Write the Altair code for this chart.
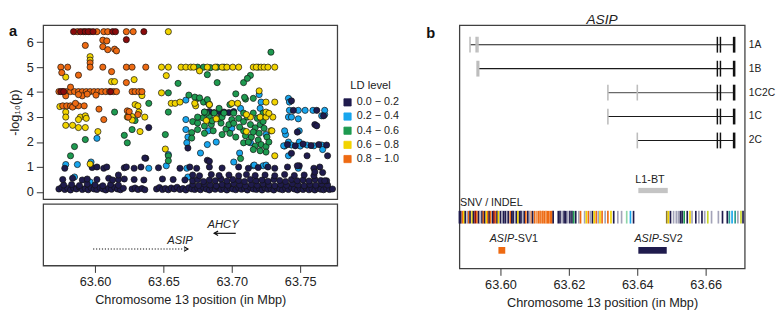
import altair as alt
import pandas as pd

FONT = "Liberation Sans"
TXT = "#222222"

# ---------------- panel a : association scatter ----------------
LD_LEVELS = ["0.0 − 0.2", "0.2 − 0.4", "0.4 − 0.6", "0.6 − 0.8", "0.8 − 1.0", "lead"]
LD_COLORS = ["#1f1b4d", "#18a6ee", "#1e9a50", "#f2d400", "#ee6a12", "#8a0b0b"]

navy_pts = [
    (63.5736, 0.12), (63.5757, 0.18), (63.5779, 0.10), (63.5800, 0.15), (63.5821, 0.08), (63.5843, 0.16),
    (63.5864, 0.12), (63.5886, 0.20), (63.5907, 0.10), (63.5929, 0.14), (63.5950, 0.09), (63.5971, 0.17),
    (63.5993, 0.12), (63.6014, 0.10), (63.6036, 0.18), (63.6057, 0.12), (63.6079, 0.08), (63.6100, 0.15),
    (63.6121, 0.11), (63.6143, 0.19), (63.6164, 0.12), (63.6186, 0.09), (63.6207, 0.15),
    (63.6271, 0.12), (63.6293, 0.16), (63.6314, 0.10), (63.6343, 0.14), (63.6364, 0.09),
    (63.6450, 0.12), (63.6471, 0.18), (63.6493, 0.10), (63.6514, 0.14), (63.6536, 0.09), (63.6557, 0.16),
    (63.6579, 0.12), (63.6600, 0.19), (63.6621, 0.10), (63.6643, 0.14), (63.6664, 0.08), (63.6686, 0.17),
    (63.6707, 0.12), (63.6729, 0.10), (63.6750, 0.15), (63.6771, 0.09), (63.6793, 0.18), (63.6814, 0.12),
    (63.6836, 0.08), (63.6857, 0.15), (63.6879, 0.11), (63.6900, 0.19), (63.6921, 0.10), (63.6943, 0.14),
    (63.6964, 0.08), (63.6986, 0.16), (63.7007, 0.12), (63.7029, 0.09), (63.7050, 0.17), (63.7071, 0.11),
    (63.7093, 0.14), (63.7114, 0.08), (63.7136, 0.18), (63.7157, 0.12), (63.7179, 0.10), (63.7200, 0.15),
    (63.7221, 0.08), (63.7243, 0.16), (63.7264, 0.11), (63.7286, 0.13), (63.7307, 0.08), (63.7329, 0.17),
    (63.7350, 0.12), (63.7371, 0.09), (63.7393, 0.15), (63.7414, 0.10), (63.7436, 0.18), (63.7457, 0.12),
    (63.7479, 0.08), (63.7500, 0.14), (63.7521, 0.10), (63.7543, 0.16), (63.7564, 0.09), (63.7586, 0.13),
    (63.7607, 0.08), (63.7629, 0.15), (63.7650, 0.11), (63.7671, 0.09), (63.7693, 0.14), (63.7714, 0.10),
    (63.7736, 0.12),
    (63.5771, 0.28), (63.5829, 0.30), (63.5886, 0.26), (63.5943, 0.32), (63.6000, 0.28), (63.6057, 0.25),
    (63.6114, 0.30), (63.6171, 0.27),
    (63.6714, 0.30), (63.6757, 0.26), (63.6800, 0.32), (63.6843, 0.28), (63.6886, 0.25), (63.6929, 0.30),
    (63.6971, 0.27), (63.7014, 0.33), (63.7057, 0.28), (63.7100, 0.25), (63.7143, 0.30), (63.7186, 0.27),
    (63.7229, 0.32), (63.7271, 0.28), (63.7314, 0.25), (63.7357, 0.30), (63.7400, 0.27), (63.7443, 0.33),
    (63.7486, 0.28), (63.7529, 0.25), (63.7571, 0.30), (63.7614, 0.27), (63.7657, 0.32), (63.7700, 0.28),
    (63.5764, 0.50), (63.5836, 0.55), (63.5907, 0.48), (63.5943, 0.52), (63.6014, 0.50), (63.6100, 0.55),
    (63.6129, 0.48), (63.6171, 0.50), (63.6214, 0.52), (63.6286, 0.50), (63.6357, 0.48), (63.6493, 0.52),
    (63.6571, 0.50), (63.6657, 0.48),
    (63.6714, 0.45), (63.6750, 0.50), (63.6793, 0.42), (63.6836, 0.48), (63.6879, 0.45), (63.6921, 0.52),
    (63.6964, 0.44), (63.7007, 0.50), (63.7050, 0.46), (63.7093, 0.42), (63.7136, 0.50), (63.7179, 0.45),
    (63.7221, 0.48), (63.7264, 0.43), (63.7307, 0.50), (63.7350, 0.46), (63.7393, 0.42), (63.7436, 0.50),
    (63.7479, 0.45), (63.7521, 0.48), (63.7564, 0.44), (63.7607, 0.50), (63.7650, 0.46), (63.7693, 0.45),
    (63.6714, 0.68), (63.6764, 0.65), (63.6850, 0.70), (63.6907, 0.66), (63.6979, 0.68), (63.7050, 0.65),
    (63.7107, 0.70), (63.7171, 0.66), (63.7243, 0.68), (63.7314, 0.65), (63.7386, 0.70), (63.7457, 0.66),
    (63.7529, 0.68), (63.7600, 0.65), (63.6171, 0.68),
    (63.5779, 0.95), (63.5979, 0.98), (63.6014, 1.00), (63.6064, 0.95), (63.6086, 1.00), (63.6214, 0.97),
    (63.6229, 1.00), (63.6286, 0.95), (63.6336, 1.00), (63.6371, 1.35), (63.6464, 0.97), (63.6621, 0.95),
    (63.6693, 1.00), (63.6743, 0.95), (63.6836, 1.00), (63.6929, 0.96), (63.7050, 1.00), (63.7121, 0.95),
    (63.7193, 0.98), (63.7264, 1.00), (63.7314, 0.95), (63.7407, 1.00), (63.7493, 1.05), (63.7600, 0.95),
    (63.7643, 1.00),
    (63.6364, 1.36), (63.6393, 2.58), (63.6679, 1.76), (63.6821, 1.27), (63.6836, 1.23), (63.7479, 1.05),
    (63.7607, 2.70), (63.7479, 2.40), (63.7621, 2.65), (63.7671, 3.05), (63.7450, 3.27), (63.7621, 3.27),
    (63.7436, 3.65), (63.7664, 0.78), (63.7607, 0.80), (63.7679, 0.45),
    (63.7407, 1.90), (63.7464, 1.85), (63.7521, 1.92), (63.7579, 1.86), (63.7636, 1.90), (63.7693, 1.88),
    (63.7436, 1.55), (63.7550, 1.45), (63.7700, 1.45),
    (63.6800, 3.20), (63.6836, 3.22), (63.6871, 3.18), (63.6907, 3.22), (63.6943, 3.20), (63.6979, 3.18),
    (63.7014, 3.22),
]

blue_pts = [
    (63.6664, 3.68), (63.6664, 2.50), (63.6679, 2.20), (63.6521, 1.05), (63.6679, 0.60), (63.6014, 2.15),
    (63.5786, 1.10), (63.5871, 1.10), (63.5850, 0.60), (63.5964, 0.40), (63.6393, 0.95), (63.6829, 2.45),
    (63.6886, 2.00), (63.6821, 1.90), (63.6771, 1.56), (63.7057, 1.56), (63.7014, 1.20), (63.7157, 1.05),
    (63.7229, 1.05), (63.5971, 1.20), (63.6536, 1.50), (63.6664, 2.90), (63.6671, 1.97), (63.6671, 0.95),
    (63.7000, 2.55), (63.7136, 1.97), (63.7250, 2.30), (63.7393, 2.30), (63.7414, 1.45), (63.7386, 1.84),
    (63.7414, 3.00), (63.7436, 3.00), (63.7657, 3.05), (63.7679, 3.10),
    (63.7414, 3.75), (63.7421, 3.60), (63.7421, 3.27), (63.7486, 3.27), (63.7536, 3.27), (63.7593, 3.27),
    (63.7679, 3.27), (63.7486, 2.93), (63.7493, 2.45), (63.7386, 2.45), (63.7414, 2.00), (63.7493, 2.00),
    (63.7379, 1.85), (63.7436, 1.88), (63.7500, 1.84), (63.7550, 1.88), (63.7600, 1.85), (63.7657, 1.88),
    (63.7250, 1.08), (63.7164, 1.08), (63.7486, 0.95),
    (63.7200, 3.90), (63.7214, 3.60), (63.7064, 3.35), (63.7207, 3.35), (63.7664, 1.70),
]

green_pts = [
    (63.7286, 5.60),
    (63.6750, 5.00), (63.6793, 5.00), (63.6893, 5.00), (63.6943, 5.00), (63.7193, 5.00), (63.6843, 4.98),
    (63.6821, 4.70), (63.6893, 4.38), (63.7086, 4.38), (63.7136, 4.67), (63.7114, 4.55),
    (63.6607, 4.35), (63.6536, 3.97), (63.6686, 3.88), (63.6750, 3.75), (63.6393, 3.55), (63.6793, 3.60),
    (63.6829, 3.55), (63.6143, 3.20), (63.6536, 3.20), (63.6293, 2.86), (63.6271, 2.50), (63.6214, 2.27),
    (63.6236, 1.97), (63.5929, 2.10), (63.5850, 1.82), (63.5821, 1.45), (63.6536, 1.45), (63.6536, 1.25),
    (63.6514, 2.30),
    (63.6714, 2.82), (63.6750, 2.76), (63.6800, 2.64), (63.6850, 2.70), (63.6921, 2.76), (63.6957, 2.52),
    (63.6979, 2.70), (63.7000, 2.90), (63.7050, 2.95), (63.7086, 2.82), (63.7136, 2.70), (63.7171, 2.57),
    (63.7207, 2.70), (63.7229, 2.82), (63.7086, 2.45), (63.7143, 2.20), (63.7193, 2.08), (63.7214, 1.90),
    (63.7250, 1.82), (63.7250, 1.60), (63.7086, 1.97), (63.7121, 2.00), (63.7171, 1.84), (63.7064, 1.34),
    (63.6707, 2.38), (63.6707, 2.16), (63.6786, 2.97), (63.6836, 3.00), (63.6907, 2.95), (63.6929, 3.00),
    (63.6729, 3.80), (63.6764, 3.77), (63.6836, 3.50), (63.6907, 3.35), (63.7100, 3.72), (63.7157, 3.75),
    (63.6814, 3.16), (63.6871, 3.16), (63.6943, 3.16), (63.7014, 3.16), (63.7086, 3.16), (63.7157, 3.16),
    (63.7229, 3.16), (63.7029, 3.93), (63.7093, 3.79), (63.6821, 3.70), (63.6986, 3.50), (63.6800, 3.20),
    (63.6750, 2.50), (63.6800, 2.35), (63.6864, 2.45), (63.6929, 2.30), (63.6986, 2.35), (63.7029, 2.20),
    (63.7057, 2.60), (63.7100, 2.25), (63.7157, 2.40), (63.7200, 2.35), (63.7236, 2.55), (63.7257, 2.20),
    (63.7157, 1.70), (63.7207, 1.65), (63.7271, 2.00), (63.7014, 2.75), (63.6857, 2.85), (63.6750, 3.00),
    (63.7114, 3.00), (63.7186, 2.95),
]

yellow_pts = [
    (63.6536, 6.42), (63.5964, 5.42), (63.5964, 5.28), (63.5786, 4.60), (63.6286, 4.50), (63.6121, 4.42),
    (63.6143, 4.42),
    (63.6486, 5.00), (63.6536, 5.00), (63.6629, 5.00), (63.6664, 5.00), (63.6700, 5.00), (63.6721, 5.00),
    (63.6821, 5.00), (63.6879, 5.00), (63.6929, 5.00), (63.6964, 5.00), (63.7007, 5.00), (63.7050, 5.00),
    (63.7157, 5.00), (63.7179, 5.00), (63.7214, 5.00), (63.7236, 5.00), (63.7264, 5.00), (63.7314, 5.00),
    (63.6764, 4.85), (63.6521, 4.66), (63.6486, 3.97), (63.6343, 3.86), (63.6557, 3.55), (63.6586, 3.55),
    (63.6621, 3.60), (63.5743, 3.42), (63.6293, 3.50), (63.6314, 3.45), (63.6736, 3.45), (63.5786, 3.20),
    (63.6321, 3.20), (63.5786, 3.00), (63.5893, 3.00), (63.5929, 3.05), (63.6236, 3.00), (63.6271, 3.02),
    (63.6364, 3.00), (63.5879, 2.90), (63.5936, 2.95), (63.6271, 2.88), (63.5786, 2.67), (63.5836, 2.67),
    (63.5879, 2.58), (63.5929, 2.58), (63.6021, 2.42), (63.6329, 2.42), (63.6514, 1.72), (63.5964, 1.12),
    (63.7200, 4.05), (63.7250, 3.60), (63.7314, 3.60), (63.6729, 3.55), (63.6836, 3.50), (63.7000, 3.55),
    (63.7043, 3.55), (63.6814, 2.86), (63.6886, 2.93), (63.7136, 3.00), (63.7207, 3.00), (63.7250, 3.00),
    (63.7300, 3.00), (63.7107, 2.42), (63.7286, 2.45), (63.7314, 1.45), (63.7250, 3.20), (63.7271, 3.15),
    (63.7293, 2.45), (63.7107, 3.10),
]

orange_pts = [
    (63.5871, 6.42), (63.5914, 6.42), (63.5964, 6.42), (63.6014, 6.42), (63.6064, 6.42), (63.6093, 6.42),
    (63.6229, 6.42), (63.6279, 6.42),
    (63.6057, 6.08), (63.6086, 6.05), (63.5929, 5.87), (63.6057, 5.82), (63.6093, 5.70), (63.6143, 5.72),
    (63.6157, 5.65),
    (63.5964, 5.17), (63.5964, 5.00), (63.5750, 5.00), (63.5800, 5.00), (63.6057, 5.00), (63.6229, 5.00),
    (63.6271, 5.00), (63.6371, 5.00), (63.5757, 4.78), (63.6121, 4.82), (63.5879, 4.68), (63.6229, 4.38),
    (63.5736, 4.02), (63.5764, 4.02), (63.5793, 4.02), (63.5821, 4.02), (63.5850, 4.02), (63.5879, 4.02),
    (63.5907, 4.02), (63.5936, 4.02), (63.5964, 4.02), (63.5993, 4.02), (63.6021, 4.02), (63.6050, 4.02),
    (63.6079, 4.02), (63.6107, 4.02), (63.6136, 4.02), (63.6157, 4.02), (63.6271, 4.02), (63.6293, 4.02),
    (63.6321, 4.02), (63.6343, 4.02),
    (63.5821, 4.20), (63.5907, 3.85), (63.5879, 3.90), (63.5943, 3.92), (63.6007, 3.88), (63.5786, 3.85),
    (63.5764, 3.45), (63.5793, 3.45), (63.5821, 3.45), (63.5850, 3.45), (63.5879, 3.45), (63.5921, 3.45),
    (63.6029, 3.32), (63.6236, 3.25), (63.6064, 2.90), (63.6243, 3.00), (63.6250, 3.22), (63.6314, 3.10),
    (63.5836, 3.40), (63.5857, 3.55),
]

lead_pts = [
    (63.5843, 6.42), (63.5893, 6.42), (63.5929, 6.42), (63.5950, 6.42), (63.5986, 6.42), (63.6129, 6.42),
    (63.6150, 6.42), (63.6357, 6.42), (63.6229, 6.10), (63.5750, 4.02), (63.5771, 4.02), (63.6114, 4.02),
]

# ---------------- panel a : gene track ----------------
gene_names = ["AHCY", "ASIP"]
gene_from = [63.7029, 63.5986]
gene_to = [63.6871, 63.6679]
gene_label_pos = [63.6936, 63.6621]
gene_row = [1, 2]

# ---------------- panel b : ASIP locus ----------------
transcripts = ["1A", "1B", "1C2C", "1C", "2C"]
tx_start = [63.5911, 63.5934, 63.6314, 63.6314, 63.6400]
tx_end = [63.6683, 63.6683, 63.6683, 63.6683, 63.6683]
coding_exons_thin = [63.6634, 63.6643]
coding_exon_last = 63.6683
first_exons = {
    "1A": [63.5911, 63.5929, 63.5934],
    "1B": [],
    "1C2C": [63.6314, 63.6400],
    "1C": [63.6314],
    "2C": [63.6400],
}
first_exons_wide = {"1B": [63.5934]}

l1bt_span = (63.6403, 63.6489)
sv_names = ["SV1", "SV2"]
sv_from = [63.5994, 63.6403]
sv_to = [63.6014, 63.6486]
sv_cat = ["0.8 − 1.0", "0.0 − 0.2"]
sv_label_pos = [63.6040, 63.6463]

snv_pos = [
    63.5880, 63.5884, 63.5889, 63.5893, 63.5897, 63.5903, 63.5907, 63.5911, 63.5917, 63.5921,
    63.5926, 63.5931, 63.5936, 63.5940, 63.5946, 63.5950, 63.5954, 63.5959, 63.5963, 63.5967,
    63.5971, 63.5977, 63.5981, 63.5986, 63.5990, 63.5994, 63.6000, 63.6004, 63.6009, 63.6014,
    63.6019, 63.6023, 63.6029, 63.6033, 63.6037, 63.6043, 63.6047, 63.6051, 63.6056, 63.6060,
    63.6066, 63.6070, 63.6074, 63.6080, 63.6086, 63.6090, 63.6094, 63.6100, 63.6106, 63.6111,
    63.6116, 63.6120, 63.6124, 63.6129, 63.6133, 63.6137, 63.6141, 63.6146, 63.6150, 63.6154,
    63.6169, 63.6174, 63.6180, 63.6186, 63.6191, 63.6197, 63.6203, 63.6209, 63.6214, 63.6220,
    63.6229, 63.6234, 63.6246, 63.6251, 63.6257, 63.6263, 63.6269, 63.6274, 63.6280, 63.6286,
    63.6291, 63.6297, 63.6306, 63.6314, 63.6323, 63.6331, 63.6343, 63.6354, 63.6369, 63.6380,
    63.6389,
    63.6486, 63.6491, 63.6497, 63.6506, 63.6514, 63.6520, 63.6526, 63.6531, 63.6537, 63.6546,
    63.6554, 63.6560, 63.6571, 63.6580, 63.6589, 63.6597, 63.6606, 63.6617, 63.6637, 63.6649,
    63.6663, 63.6669, 63.6677, 63.6686, 63.6694, 63.6703, 63.6709,
]
snv_code = [
    "1", "1", "5", "4", "1", "g", "5", "1", "4", "1",
    "r", "5", "1", "g", "1", "5", "1", "4", "5", "1",
    "5", "1", "r", "5", "1", "4", "1", "g", "1", "1",
    "g", "1", "5", "1", "1", "g", "1", "4", "1", "1",
    "g", "1", "5", "1", "g", "o", "1", "5", "o", "5",
    "5", "o", "5", "5", "o", "5", "5", "5", "5", "1",
    "1", "1", "g", "1", "1", "g", "1", "1", "3", "1",
    "g", "5", "g", "4", "5", "g", "1", "4", "5", "g",
    "4", "5", "g", "5", "4", "1", "g", "g", "m", "2",
    "1",
    "k", "4", "1", "g", "g", "g", "1", "1", "3", "1",
    "4", "g", "1", "g", "1", "g", "v", "g", "g", "1",
    "1", "t", "2", "t", "g", "v", "1",
]
CODE_TO_CAT = {"1": LD_LEVELS[0], "2": LD_LEVELS[1], "3": LD_LEVELS[2], "4": LD_LEVELS[3],
               "5": LD_LEVELS[4], "r": "lead", "g": "gray", "o": "light orange", "t": "teal",
               "m": "mint", "k": "olive", "v": "lime"}

EXTRA_CATS = ["gray", "light orange", "teal", "mint", "olive", "lime", "box gray", "tx main", "tx alt"]
EXTRA_COLORS = ["#a3a3b8", "#f29a5c", "#2a9d8f", "#8fd6a8", "#8c7a2a", "#c8d42a", "#c4c4c4",
                "#1a1a1a", "#6a6a6a"]
COLOR_SCALE = alt.Scale(domain=LD_LEVELS + EXTRA_CATS, range=LD_COLORS + EXTRA_COLORS)
LEGEND = alt.Legend(values=LD_LEVELS[:5], title="LD level", orient="none",
                    legendX=306, legendY=56, symbolType="square", symbolSize=55,
                    symbolStrokeColor="#111111", symbolStrokeWidth=0.8,
                    symbolOpacity=1, titleFontWeight="normal", titleFontSize=11.5,
                    labelFontSize=11, titleAnchor="middle", rowPadding=2.5,
                    labelOffset=4, titlePadding=6, titleColor=TXT, labelColor=TXT,
                    titleFont=FONT, labelFont=FONT)


def color_enc(field):
    return alt.Color(field, scale=COLOR_SCALE, legend=LEGEND)


def panel_title(text):
    return alt.Title(text, fontStyle="italic", fontWeight="normal", fontSize=14, font=FONT,
                     offset=-2, color=TXT)


# ================= build =================
rows = []
for lvl, pts in [(LD_LEVELS[1], blue_pts), (LD_LEVELS[0], navy_pts), (LD_LEVELS[2], green_pts),
                 (LD_LEVELS[3], yellow_pts), (LD_LEVELS[4], orange_pts), (LD_LEVELS[5], lead_pts)]:
    for p, v in pts:
        rows.append({"pos": p, "logp": v, "ld": lvl})
scatter_df = pd.DataFrame(rows)

XA = alt.Scale(domain=[63.5621, 63.7771], nice=False, zero=False)
YA = alt.Scale(domain=[-0.285, 6.68], nice=False, zero=False)

points = alt.Chart(scatter_df).mark_circle(size=40, opacity=1, stroke="#111111", strokeWidth=0.7).encode(
    x=alt.X("pos:Q", scale=XA, axis=None),
    y=alt.Y("logp:Q", scale=YA,
            axis=alt.Axis(values=[0, 1, 2, 3, 4, 5, 6], title="-log₁₀(p)", tickSize=7,
                          labelPadding=3, titlePadding=5)),
    color=color_enc("ld:N"),
)
label_a = alt.Chart(pd.DataFrame({"t": ["a"]})).mark_text(
    font=FONT, fontSize=15, fontWeight="bold", align="left", baseline="top", color="#111111"
).encode(text="t:N", x=alt.value(-35), y=alt.value(-1))

scatter = alt.layer(points, label_a).properties(width=301, height=178, title=panel_title("\u00a0"))

genes_df = pd.DataFrame({"gene": gene_names, "x0": gene_from, "x1": gene_to,
                         "lab": gene_label_pos, "row": gene_row})
genes_df["ly"] = genes_df["row"] - 0.5
YG = alt.Scale(domain=[-0.875, 3.06], reverse=True, nice=False, zero=False)
GX_AXIS = alt.Axis(values=[63.60, 63.65, 63.70, 63.75], format=".2f", tickSize=7,
                   labelPadding=3, titlePadding=6, title="Chromosome 13 position (in Mbp)")


def gx(field):
    return alt.X(field, scale=XA, axis=GX_AXIS)


def gy(field):
    return alt.Y(field, scale=YG, axis=None)


ahcy_line = alt.Chart(genes_df).transform_filter("datum.gene == 'AHCY'").mark_rule(
    color="#111111", strokeWidth=1.2).encode(x=gx("x0:Q"), x2="x1:Q", y=gy("row:Q"))
asip_line = alt.Chart(genes_df).transform_filter("datum.gene == 'ASIP'").mark_rule(
    color="#111111", strokeWidth=1.2, strokeDash=[1.2, 1.8]).encode(x=gx("x0:Q"), x2="x1:Q", y=gy("row:Q"))
ahcy_head = alt.Chart(genes_df).transform_filter("datum.gene == 'AHCY'").mark_point(
    shape="M1.6,-0.9L0,0L1.6,0.9", size=25, filled=False, stroke="#111111", strokeWidth=1.2,
    opacity=1).encode(x=gx("x1:Q"), y=gy("row:Q"))
asip_head = alt.Chart(genes_df).transform_filter("datum.gene == 'ASIP'").mark_point(
    shape="M-1.6,-0.9L0,0L-1.6,0.9", size=25, filled=False, stroke="#111111", strokeWidth=1.2,
    opacity=1).encode(x=gx("x1:Q"), y=gy("row:Q"))
gene_text = alt.Chart(genes_df).mark_text(
    font=FONT, fontSize=11.5, fontStyle="italic", color=TXT, baseline="middle").encode(
    x=gx("lab:Q"), y=gy("ly:Q"), text="gene:N")

genes = alt.layer(ahcy_line, asip_line, ahcy_head, asip_head, gene_text).properties(width=301, height=63)

left = alt.vconcat(scatter, genes, spacing=5, bounds="flush")

# ---- panel b
XB = alt.Scale(domain=[63.588, 63.6714], nice=False, zero=False)
YB = alt.Scale(domain=[0.184, 10.347], reverse=True, nice=False, zero=False)
XB_AXIS = alt.Axis(values=[63.60, 63.62, 63.64, 63.66], format=".2f", tickSize=7, labelPadding=3,
                   titlePadding=6, title="Chromosome 13 position (in Mbp)")


def xb(field):
    return alt.X(field, scale=XB, axis=XB_AXIS)


def yb(field):
    return alt.Y(field, scale=YB, axis=None)


tx_df = pd.DataFrame({"tx": transcripts, "x0": tx_start, "x1": tx_end,
                      "row": list(range(1, len(transcripts) + 1))})
tx_df["col"] = ["tx main" if t != "1C2C" else "tx alt" for t in transcripts]
tx_df["lx"] = 63.6726
tx_lines = alt.Chart(tx_df).mark_rule(strokeWidth=1.1).encode(
    x=xb("x0:Q"), x2="x1:Q", y=yb("row:Q"), color=color_enc("col:N"))

ex_rows = []
for i, t in enumerate(transcripts):
    for p in coding_exons_thin:
        ex_rows.append({"pos": p, "row": i + 1, "kind": "thin"})
    ex_rows.append({"pos": coding_exon_last, "row": i + 1, "kind": "thick"})
    for p in first_exons[t]:
        ex_rows.append({"pos": p, "row": i + 1, "kind": "gray"})
    for p in first_exons_wide.get(t, []):
        ex_rows.append({"pos": p, "row": i + 1, "kind": "graywide"})
ex_df = pd.DataFrame(ex_rows)
ex_df["y0"] = ex_df["row"] - 0.33
ex_df["y1"] = ex_df["row"] + 0.33


def exon_layer(kind, color, width):
    return alt.Chart(ex_df).transform_filter(f"datum.kind == '{kind}'").mark_rule(
        color=color, strokeWidth=width).encode(x=xb("pos:Q"), y=yb("y0:Q"), y2="y1:Q")


ex_gray = exon_layer("gray", "#bdbdbd", 1.6)
ex_graywide = exon_layer("graywide", "#bdbdbd", 3.2)
ex_thin = exon_layer("thin", "#111111", 1.5)
ex_thick = exon_layer("thick", "#111111", 2.6)

tx_text = alt.Chart(tx_df).mark_text(
    font=FONT, fontSize=10.5, align="left", baseline="middle", color=TXT).encode(
    x=xb("lx:Q"), y=yb("row:Q"), text="tx:N")

boxes_df = pd.DataFrame({
    "name": ["L1-BT"] + sv_names,
    "x0": [l1bt_span[0]] + sv_from,
    "x1": [l1bt_span[1]] + sv_to,
    "y0": [6.98, 9.45, 9.45],
    "y1": [7.20, 9.73, 9.73],
    "cat": ["box gray"] + sv_cat,
})
boxes = alt.Chart(boxes_df).mark_rect().encode(
    x=xb("x0:Q"), x2="x1:Q", y=yb("y0:Q"), y2="y1:Q", color=color_enc("cat:N"))

snv_df = pd.DataFrame({"pos": snv_pos, "cat": [CODE_TO_CAT[c] for c in snv_code]})
snv_df["y0"] = 7.94
snv_df["y1"] = 8.47
strip = alt.Chart(snv_df).mark_rule(strokeWidth=1.7).encode(
    x=xb("pos:Q"), y=yb("y0:Q"), y2="y1:Q", color=color_enc("cat:N"))

plain_df = pd.DataFrame({"t": ["L1-BT", "SNV / INDEL"], "x": [63.6437, 63.5882], "y": [6.67, 7.62],
                         "al": ["c", "l"]})
txt_l1 = alt.Chart(plain_df).transform_filter("datum.al == 'c'").mark_text(
    font=FONT, fontSize=11, align="center", baseline="middle", color=TXT).encode(
    x=xb("x:Q"), y=yb("y:Q"), text="t:N")
txt_snv = alt.Chart(plain_df).transform_filter("datum.al == 'l'").mark_text(
    font=FONT, fontSize=11, align="left", baseline="middle", color=TXT).encode(
    x=xb("x:Q"), y=yb("y:Q"), text="t:N")

sv_lab_df = pd.DataFrame({"gene": ["ASIP", "ASIP"], "suffix": ["-" + s for s in sv_names],
                          "x": sv_label_pos, "y": [9.12, 9.12]})
sv_gene = alt.Chart(sv_lab_df).mark_text(
    font=FONT, fontSize=11, fontStyle="italic", align="right", baseline="middle", color=TXT).encode(
    x=xb("x:Q"), y=yb("y:Q"), text="gene:N")
sv_suffix = alt.Chart(sv_lab_df).mark_text(
    font=FONT, fontSize=11, align="left", baseline="middle", color=TXT).encode(
    x=xb("x:Q"), y=yb("y:Q"), text="suffix:N")

label_b = alt.Chart(pd.DataFrame({"t": ["b"]})).mark_text(
    font=FONT, fontSize=15, fontWeight="bold", align="left", baseline="top", color="#111111"
).encode(text="t:N", x=alt.value(-34), y=alt.value(1))

right = alt.layer(tx_lines, ex_gray, ex_graywide, ex_thin, ex_thick, tx_text, boxes, strip,
                  txt_l1, txt_snv, sv_gene, sv_suffix, label_b).properties(
    width=292, height=249, title=panel_title("ASIP"))

chart = alt.hconcat(left, right, spacing=89, bounds="full").properties(
    padding={"left": 0, "top": 0, "right": 0, "bottom": 0})

chart = chart.configure(font=FONT).configure_view(stroke="#404040", strokeWidth=1.3).configure_axis(
    labelFont=FONT, titleFont=FONT, labelColor=TXT, titleColor=TXT, tickColor="#333333",
    labelFontSize=13, titleFontSize=13, titleFontWeight="normal", grid=False, domain=False)

chart.save("out.html", embed_options={"renderer": "svg", "actions": False})
